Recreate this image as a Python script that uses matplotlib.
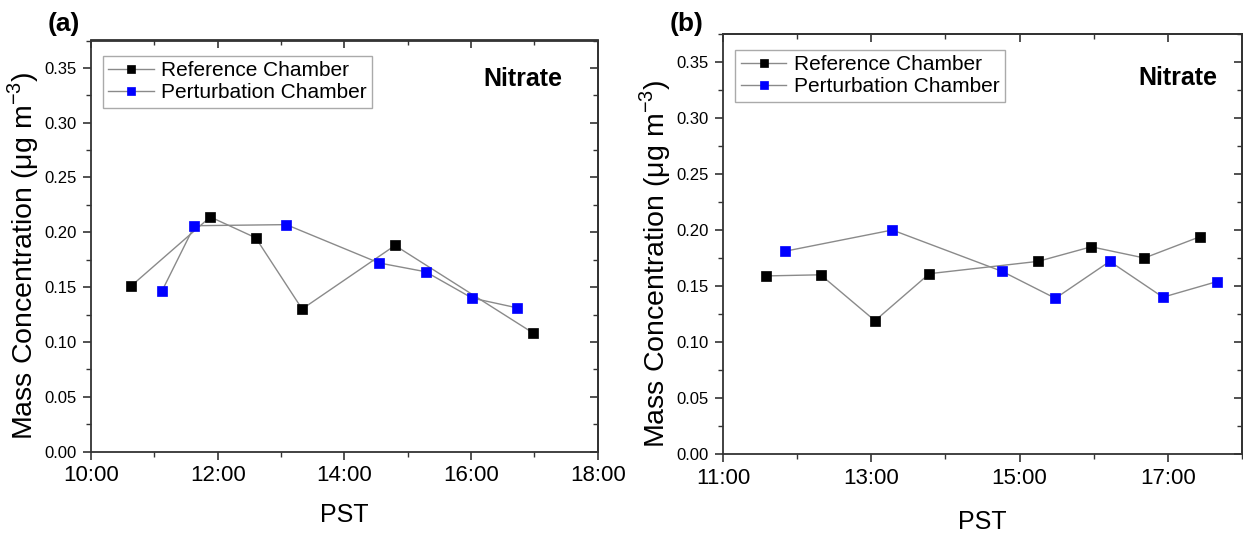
import matplotlib
matplotlib.use("Agg")
import matplotlib.pyplot as plt
import matplotlib.dates as mdates
from matplotlib.ticker import MultipleLocator, FormatStrFormatter
import pandas as pd

plt.rcParams['font.family'] = ['Liberation Sans', 'DejaVu Sans']
plt.rcParams['mathtext.fontset'] = 'custom'
plt.rcParams['mathtext.rm'] = 'Liberation Sans'

# ---------------- data ----------------
# Panel (a)
a_ref_time = ["10:38", "11:53", "12:36", "13:20", "14:48", "16:59"]
a_ref_val = [0.151, 0.214, 0.195, 0.130, 0.188, 0.108]
a_pert_time = ["11:07", "11:38", "13:05", "14:33", "15:17", "16:01", "16:44"]
a_pert_val = [0.146, 0.206, 0.207, 0.172, 0.164, 0.140, 0.131]

# Panel (b)
b_ref_time = ["11:35", "12:19", "13:03", "13:47", "15:15", "15:58", "16:41", "17:26"]
b_ref_val = [0.159, 0.160, 0.119, 0.161, 0.172, 0.185, 0.175, 0.194]
b_pert_time = ["11:50", "13:17", "14:46", "15:29", "16:13", "16:56", "17:40"]
b_pert_val = [0.181, 0.200, 0.163, 0.139, 0.172, 0.140, 0.154]

series_labels = ["Reference Chamber", "Perturbation Chamber"]
panel_labels = ["(a)", "(b)"]
species = "Nitrate"
ylabel = "Mass Concentration ($\\mathregular{\\mu}$g m$^{-3}$)"
xlabel = "PST"
a_xlim = ["10:00", "18:00"]
b_xlim = ["11:00", "18:00"]
b_major_hours = [11, 13, 15, 17]

DAY = "2000-01-01 "


def to_dt(ts):
    return pd.to_datetime([DAY + t for t in ts])


fig = plt.figure(figsize=(12.43, 5.33), dpi=100)
W, H = 1243, 533


def add_axes_px(left, top, right, bottom):
    return fig.add_axes([left / W, 1 - bottom / H, (right - left) / W, (bottom - top) / H])


ax_a = add_axes_px(91, 40.5, 597.7, 451.5)
ax_b = add_axes_px(723, 34, 1242, 454)

line_col = "#8a8a8a"


def draw(ax, rt, rv, pt, pv, xlim, major_loc, label_txt, lab_xy, nit_xy,
         xlab_pad, ylab_coords):
    ax.plot(to_dt(rt), rv, color=line_col, lw=1.0, marker="s", ms=6.6,
            mfc="black", mec="black", mew=0.5, label=series_labels[0], zorder=3)
    ax.plot(to_dt(pt), pv, color=line_col, lw=1.0, marker="s", ms=6.6,
            mfc="#0000ff", mec="#0000ff", mew=0.5, label=series_labels[1], zorder=3)
    xl = to_dt(xlim)
    ax.set_xlim(xl[0], xl[1])
    ax.set_ylim(0, 0.375)
    ax.xaxis.set_major_locator(major_loc)
    ax.xaxis.set_minor_locator(mdates.HourLocator(interval=1))
    ax.xaxis.set_major_formatter(mdates.DateFormatter("%H:%M"))
    ax.yaxis.set_major_locator(MultipleLocator(0.05))
    ax.yaxis.set_minor_locator(MultipleLocator(0.025))
    ax.yaxis.set_major_formatter(FormatStrFormatter("%.2f"))
    for s in ax.spines.values():
        s.set_linewidth(1.3)
        s.set_color("#333333")
    ax.tick_params(which="both", direction="out", top=False, right=False, color="#333333")
    ax.tick_params(which="major", length=6, width=1.2)
    ax.tick_params(which="minor", length=3.5, width=1.0)
    ax.tick_params(axis="x", which="major", labelsize=16, pad=4)
    ax.tick_params(axis="y", which="major", labelsize=12, pad=4)
    # inward mirrored ticks on top/right
    sx = ax.secondary_xaxis("top")
    sx.xaxis.set_major_locator(major_loc)
    sx.xaxis.set_minor_locator(mdates.HourLocator(interval=1))
    sx.tick_params(which="both", direction="in", labeltop=False, color="#333333")
    sx.tick_params(which="major", length=6, width=1.2)
    sx.tick_params(which="minor", length=3.5, width=1.0)
    sx.spines["top"].set_linewidth(1.3)
    sx.spines["top"].set_color("#333333")
    sy = ax.secondary_yaxis("right")
    sy.yaxis.set_major_locator(MultipleLocator(0.05))
    sy.yaxis.set_minor_locator(MultipleLocator(0.025))
    sy.tick_params(which="both", direction="in", labelright=False, color="#333333")
    sy.tick_params(which="major", length=6, width=1.2)
    sy.tick_params(which="minor", length=3.5, width=1.0)
    sy.spines["right"].set_linewidth(1.3)
    sy.spines["right"].set_color("#333333")

    ax.set_xlabel(xlabel, fontsize=18, labelpad=xlab_pad)
    ax.set_ylabel(ylabel, fontsize=20.5)
    ax.yaxis.set_label_coords(*ylab_coords)
    leg = ax.legend(loc="upper left", bbox_to_anchor=(0.024, 0.962), fontsize=15,
                    frameon=True, fancybox=False, edgecolor="#aaaaaa", framealpha=1,
                    handlelength=2.2, handletextpad=0.35, borderpad=0.25,
                    labelspacing=0.15, borderaxespad=0.0, markerscale=0.85)
    leg.get_frame().set_linewidth(1.0)
    fig.text(nit_xy[0] / W, 1 - nit_xy[1] / H, species, fontsize=18,
             fontweight="bold", ha="center", va="center")
    fig.text(lab_xy[0] / W, 1 - lab_xy[1] / H, label_txt, fontsize=19,
             fontweight="bold", ha="center", va="center")


draw(ax_a, a_ref_time, a_ref_val, a_pert_time, a_pert_val, a_xlim,
     mdates.HourLocator(interval=2), panel_labels[0], (64, 24), (523, 78.5),
     12, (-0.098, 0.475))
draw(ax_b, b_ref_time, b_ref_val, b_pert_time, b_pert_val, b_xlim,
     mdates.HourLocator(byhour=b_major_hours), panel_labels[1], (687, 24), (1178, 78),
     15, (-0.096, 0.452))

fig.savefig("out.png", dpi=100)
